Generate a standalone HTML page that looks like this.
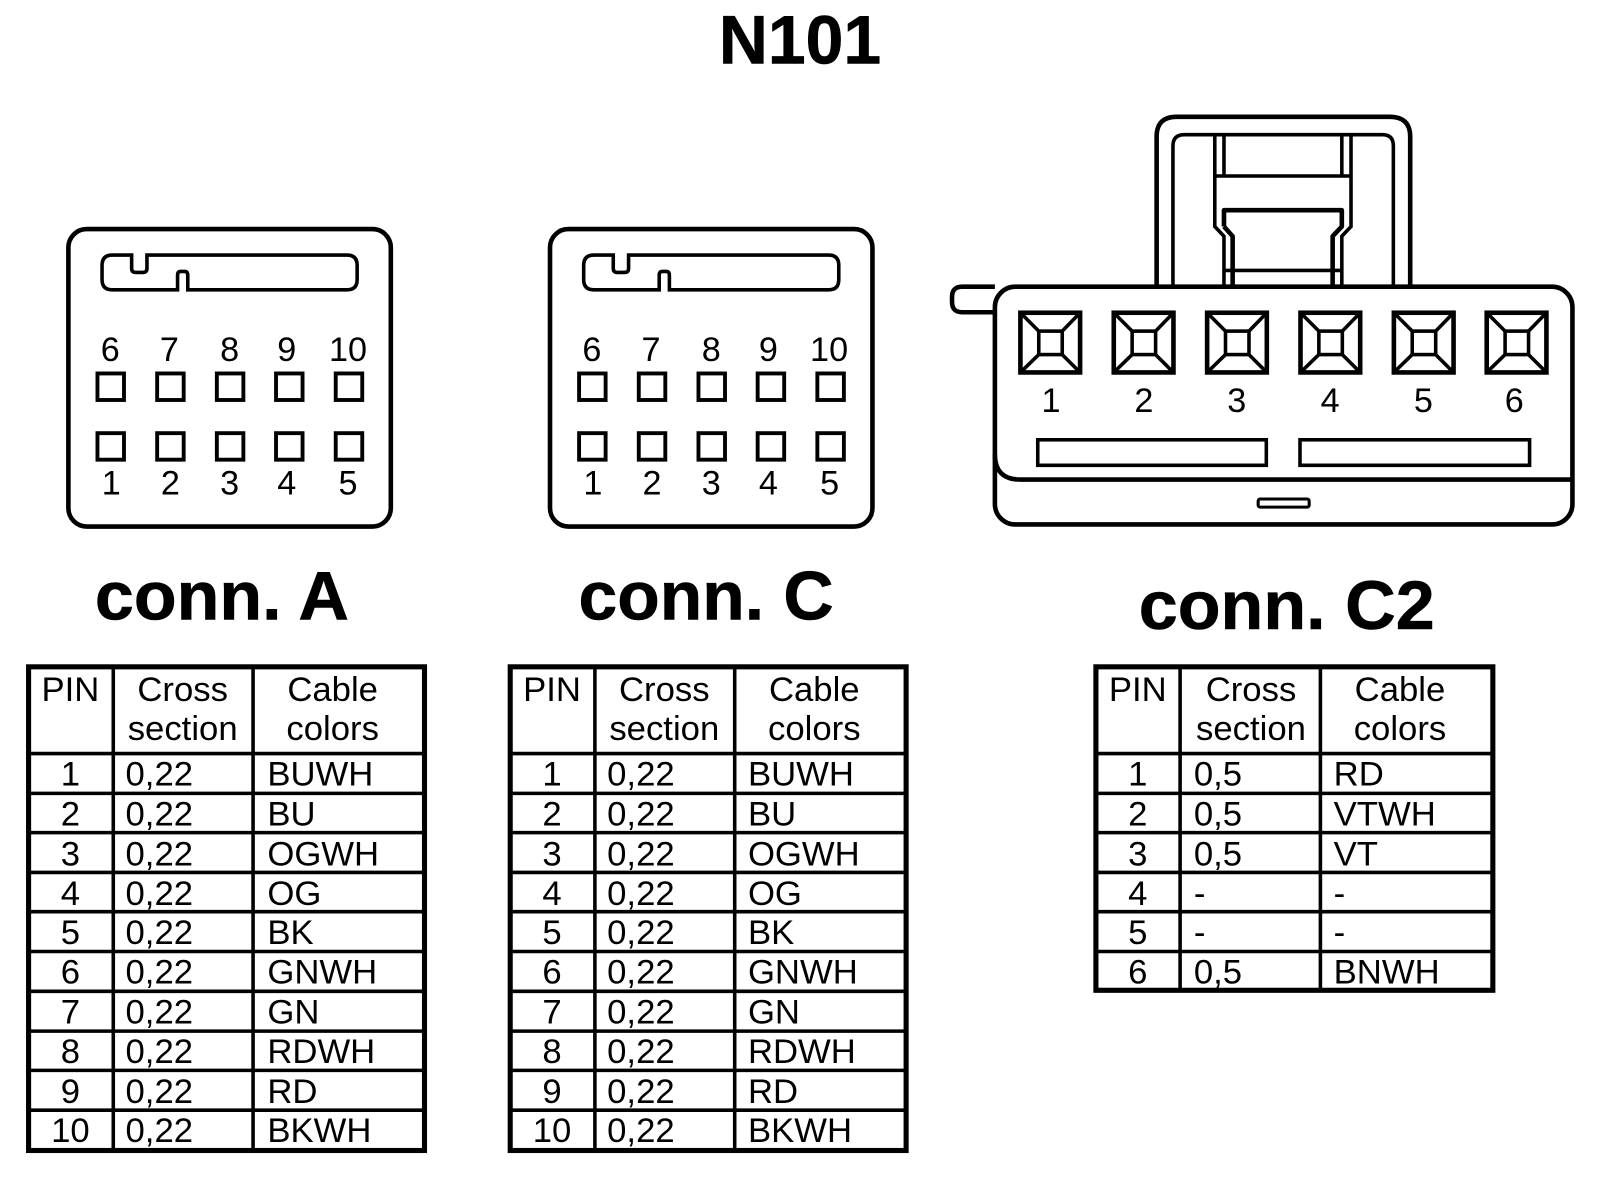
<!DOCTYPE html>
<html><head><meta charset="utf-8">
<style>
html,body{margin:0;padding:0;background:#fff;overflow:hidden}
svg{display:block}
text{font-family:"Liberation Sans",sans-serif;fill:#000}
.m{text-anchor:middle}
.t{font-size:34px}
.n{font-size:33.5px;text-anchor:middle}
.b{font-weight:bold;font-size:67px;stroke:#000;stroke-width:.6px}
.s{fill:none;stroke:#000;stroke-width:4.5;stroke-linejoin:round}
.o{fill:none;stroke:#000;stroke-width:5}
.i{stroke:#000;stroke-width:3.5;fill:none}
.p{fill:none;stroke:#000;stroke-width:3.5}
.q{fill:none;stroke:#000;stroke-width:3.8}
</style></head><body>
<svg xmlns="http://www.w3.org/2000/svg" xmlns:xlink="http://www.w3.org/1999/xlink" width="1600" height="1186" viewBox="0 0 1568 1162.3">
<rect width="1568" height="1163" fill="#fff"/>
<defs>
<g id="conn">
<rect class="s" x="67" y="224.5" width="316" height="291.5" rx="18"/>
<path class="p" d="M110 250H129V263Q129 267 133 267H140Q144 267 144 263V250H340Q350 250 350 260V274Q350 284 340 284H184V270Q184 266 181 266H177Q174 266 174 270V284H110Q100 284 100 274V260Q100 250 110 250Z"/>
<g class="q">
<rect x="95.500" y="366" width="26" height="26"/><rect x="154" y="366" width="26" height="26"/><rect x="212.500" y="366" width="26" height="26"/><rect x="270.500" y="366" width="26" height="26"/><rect x="329" y="366" width="26" height="26"/>
<rect x="95.500" y="424.500" width="26" height="26"/><rect x="154" y="424.500" width="26" height="26"/><rect x="212.500" y="424.500" width="26" height="26"/><rect x="270.500" y="424.500" width="26" height="26"/><rect x="329" y="424.500" width="26" height="26"/>
</g>
</g>
<g id="grid10">
<rect class="o" x="28" y="653.500" width="388" height="474"/>
<path class="i" d="M111 653V1128M248 653V1128M28 738.500H416M28 777.500H416M28 816H416M28 855H416M28 893.500H416M28 932.500H416M28 971.500H416M28 1010.500H416M28 1049H416M28 1088H416"/>
</g>
<g id="sq">
<rect x="0" y="0" width="58.500" height="58.500" fill="none" stroke="#000" stroke-width="4.500"/>
<rect x="18" y="18" width="23" height="23" fill="none" stroke="#000" stroke-width="3.500"/>
<path d="M0 0L18 18M58.500 0L41 18M0 58.500L18 41M58.500 58.500L41 41" fill="none" stroke="#000" stroke-width="3.500"/>
</g>
</defs>

<text class="b" x="784" y="62" text-anchor="middle" textLength="159" lengthAdjust="spacingAndGlyphs">N101</text>

<use xlink:href="#conn"/>
<text class="n" x="108" y="354">6</text><text class="n" x="166" y="354">7</text><text class="n" x="225" y="354">8</text><text class="n" x="281" y="354">9</text><text class="n" x="341" y="354">10</text>
<text class="n" x="109" y="484.500">1</text><text class="n" x="167" y="484.500">2</text><text class="n" x="225" y="484.500">3</text><text class="n" x="281" y="484.500">4</text><text class="n" x="341" y="484.500">5</text>

<use xlink:href="#conn" x="472"/>
<text class="n" x="580" y="354">6</text><text class="n" x="638" y="354">7</text><text class="n" x="697" y="354">8</text><text class="n" x="753" y="354">9</text><text class="n" x="812.500" y="354">10</text>
<text class="n" x="581" y="484.500">1</text><text class="n" x="639" y="484.500">2</text><text class="n" x="697" y="484.500">3</text><text class="n" x="753" y="484.500">4</text><text class="n" x="813" y="484.500">5</text>

<!-- C2 connector -->
<path class="s" d="M1133.500 281V134Q1133.500 114.500 1153 114.500H1362Q1382 114.500 1382 134V281"/>
<path class="p" d="M1149.500 281V143Q1149.500 132 1160.500 132H1355Q1365.500 132 1365.500 143V281"/>
<path class="p" d="M1190.500 133V222L1199.500 231.500V281M1199.500 133V172M1190.500 172.500H1324M1315 133V172M1324 133V222L1315 231.500V281"/>
<path class="s" d="M1199.500 222V206H1315V222L1306 231.500V281M1199.500 222L1208 231.500V281"/>
<path class="p" d="M1200 265H1315"/>
<path class="s" d="M975 281H943Q933 281 933 291V296Q933 306 943 306H975"/>
<rect x="975" y="281" width="566" height="233" rx="20" fill="#fff" stroke="#000" stroke-width="4.500"/>
<path class="s" d="M975 445Q975 470 1000 470H1541"/>
<use xlink:href="#sq" x="1000" y="306.500"/>
<use xlink:href="#sq" x="1091.500" y="306.500"/>
<use xlink:href="#sq" x="1183" y="306.500"/>
<use xlink:href="#sq" x="1274.500" y="306.500"/>
<use xlink:href="#sq" x="1366" y="306.500"/>
<use xlink:href="#sq" x="1457" y="306.500"/>
<text class="n" x="1030" y="404">1</text><text class="n" x="1121" y="404">2</text><text class="n" x="1212" y="404">3</text><text class="n" x="1303.500" y="404">4</text><text class="n" x="1395" y="404">5</text><text class="n" x="1484" y="404">6</text>
<rect class="p" x="1017" y="431" width="224" height="25"/>
<rect class="p" x="1274" y="431" width="225" height="25"/>
<rect x="1233" y="489" width="50" height="8" rx="2" fill="none" stroke="#000" stroke-width="3"/>

<!-- titles -->
<text class="b" x="93" y="607" textLength="249" lengthAdjust="spacingAndGlyphs">conn. A</text>
<text class="b" x="567" y="607" textLength="250" lengthAdjust="spacingAndGlyphs">conn. C</text>
<text class="b" x="1116" y="616.500" textLength="290" lengthAdjust="spacingAndGlyphs">conn. C2</text>

<!-- table A -->
<use xlink:href="#grid10"/>
<g class="t">
<text class="m" x="69" y="687">PIN</text><text class="m" x="179" y="687">Cross</text><text class="m" x="179" y="725">section</text><text class="m" x="326" y="687">Cable</text><text class="m" x="326" y="725">colors</text>
<text class="m" x="69" y="770">1</text><text x="123" y="770">0,22</text><text x="262" y="770">BUWH</text>
<text class="m" x="69" y="809">2</text><text x="123" y="809">0,22</text><text x="262" y="809">BU</text>
<text class="m" x="69" y="848">3</text><text x="123" y="848">0,22</text><text x="262" y="848">OGWH</text>
<text class="m" x="69" y="887">4</text><text x="123" y="887">0,22</text><text x="262" y="887">OG</text>
<text class="m" x="69" y="925">5</text><text x="123" y="925">0,22</text><text x="262" y="925">BK</text>
<text class="m" x="69" y="964">6</text><text x="123" y="964">0,22</text><text x="262" y="964">GNWH</text>
<text class="m" x="69" y="1003">7</text><text x="123" y="1003">0,22</text><text x="262" y="1003">GN</text>
<text class="m" x="69" y="1042">8</text><text x="123" y="1042">0,22</text><text x="262" y="1042">RDWH</text>
<text class="m" x="69" y="1081">9</text><text x="123" y="1081">0,22</text><text x="262" y="1081">RD</text>
<text class="m" x="69" y="1119">10</text><text x="123" y="1119">0,22</text><text x="262" y="1119">BKWH</text>
</g>

<!-- table C -->
<use xlink:href="#grid10" x="472"/>
<g class="t">
<text class="m" x="541" y="687">PIN</text><text class="m" x="651" y="687">Cross</text><text class="m" x="651" y="725">section</text><text class="m" x="798" y="687">Cable</text><text class="m" x="798" y="725">colors</text>
<text class="m" x="541" y="770">1</text><text x="595" y="770">0,22</text><text x="733" y="770">BUWH</text>
<text class="m" x="541" y="809">2</text><text x="595" y="809">0,22</text><text x="733" y="809">BU</text>
<text class="m" x="541" y="848">3</text><text x="595" y="848">0,22</text><text x="733" y="848">OGWH</text>
<text class="m" x="541" y="887">4</text><text x="595" y="887">0,22</text><text x="733" y="887">OG</text>
<text class="m" x="541" y="925">5</text><text x="595" y="925">0,22</text><text x="733" y="925">BK</text>
<text class="m" x="541" y="964">6</text><text x="595" y="964">0,22</text><text x="733" y="964">GNWH</text>
<text class="m" x="541" y="1003">7</text><text x="595" y="1003">0,22</text><text x="733" y="1003">GN</text>
<text class="m" x="541" y="1042">8</text><text x="595" y="1042">0,22</text><text x="733" y="1042">RDWH</text>
<text class="m" x="541" y="1081">9</text><text x="595" y="1081">0,22</text><text x="733" y="1081">RD</text>
<text class="m" x="541" y="1119">10</text><text x="595" y="1119">0,22</text><text x="733" y="1119">BKWH</text>
</g>

<!-- table C2 -->
<rect class="o" x="1074" y="653.500" width="389" height="317"/>
<path class="i" d="M1156.500 653V971M1294 653V971M1074 738.500H1463M1074 777.500H1463M1074 816H1463M1074 855H1463M1074 893.500H1463M1074 932.500H1463"/>
<g class="t">
<text class="m" x="1115" y="687">PIN</text><text class="m" x="1226" y="687">Cross</text><text class="m" x="1226" y="725">section</text><text class="m" x="1372" y="687">Cable</text><text class="m" x="1372" y="725">colors</text>
<text class="m" x="1115" y="770">1</text><text x="1170" y="770">0,5</text><text x="1307" y="770">RD</text>
<text class="m" x="1115" y="809">2</text><text x="1170" y="809">0,5</text><text x="1307" y="809">VTWH</text>
<text class="m" x="1115" y="848">3</text><text x="1170" y="848">0,5</text><text x="1307" y="848">VT</text>
<text class="m" x="1115" y="887">4</text><text x="1170" y="887">-</text><text x="1307" y="887">-</text>
<text class="m" x="1115" y="925">5</text><text x="1170" y="925">-</text><text x="1307" y="925">-</text>
<text class="m" x="1115" y="964">6</text><text x="1170" y="964">0,5</text><text x="1307" y="964">BNWH</text>
</g>
</svg>
</body></html>
